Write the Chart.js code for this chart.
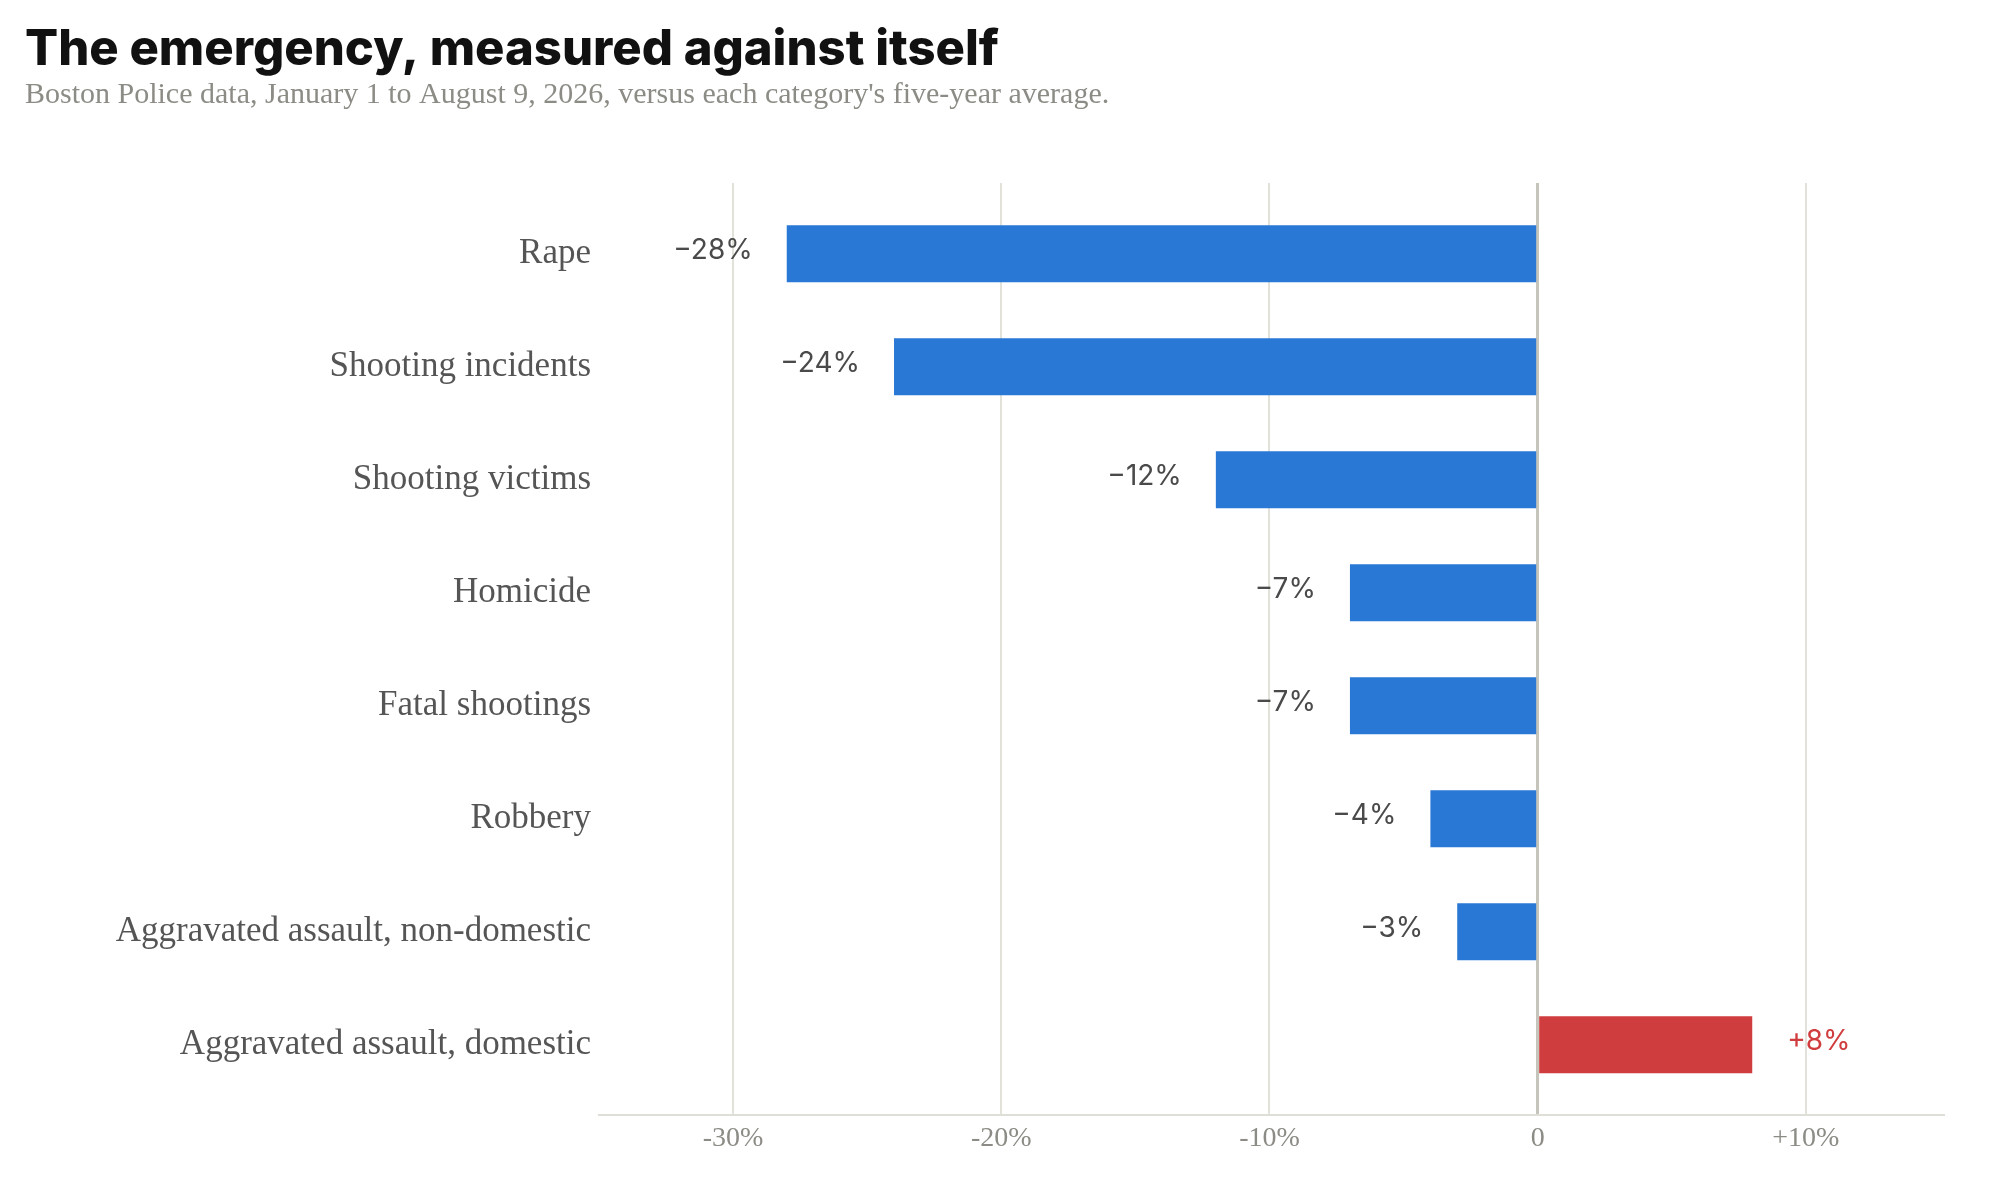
<!DOCTYPE html>
<html>
<head>
<meta charset="utf-8">
<script src="https://cdn.jsdelivr.net/npm/chart.js@4.4.1/dist/chart.umd.min.js"></script>
<style>
  html, body { margin: 0; padding: 0; background: #fff; }
  #wrap { width: 2000px; height: 1180px; position: relative; }
</style>
</head>
<body>
<div id="wrap"><canvas id="chart"></canvas></div>
<script>
// data
const categories = [
  'Rape',
  'Shooting incidents',
  'Shooting victims',
  'Homicide',
  'Fatal shootings',
  'Robbery',
  'Aggravated assault, non-domestic',
  'Aggravated assault, domestic'
];
const changes = [-28, -24, -12, -7, -7, -4, -3, 8];
const barLabels = ['\u221228%', '\u221224%', '\u221212%', '\u22127%', '\u22127%', '\u22124%', '\u22123%', '+8%'];
const xTickValues = [-30, -20, -10, 0, 10];
const xTickLabels = ['-30%', '-20%', '-10%', '0', '+10%'];

const BLUE = '#2a78d6';
const RED = '#d03d3e';

// value labels at the end of each bar
const valueLabels = {
  id: 'valueLabels',
  afterDatasetsDraw(chart) {
    const ctx = chart.ctx;
    const meta = chart.getDatasetMeta(0);
    ctx.save();
    ctx.font = '400 28px Inter';
    ctx.textBaseline = 'middle';
    meta.data.forEach((bar, i) => {
      const neg = changes[i] < 0;
      ctx.fillStyle = neg ? '#4a4a4a' : RED;
      ctx.textAlign = neg ? 'right' : 'left';
      ctx.fillText(barLabels[i], bar.x + (neg ? -34 : 35), bar.y - 3);
    });
    ctx.restore();
  }
};

new Chart(document.getElementById('chart'), {
  type: 'bar',
  data: {
    datasets: [{
      data: changes.map((v, i) => ({ x: v, y: i })),
      backgroundColor: changes.map(v => v < 0 ? BLUE : RED),
      borderWidth: 0,
      barPercentage: 0.505,
      categoryPercentage: 1
    }]
  },
  options: {
    indexAxis: 'y',
    responsive: true,
    maintainAspectRatio: false,
    animation: false,
    devicePixelRatio: 1,
    layout: { padding: { left: 25, right: 56, top: 0, bottom: 19 } },
    plugins: {
      legend: { display: false },
      tooltip: { enabled: false },
      title: {
        display: true,
        text: 'The emergency, measured against itself',
        align: 'start',
        color: '#111',
        font: { family: 'Inter', size: 49, weight: '800', lineHeight: 1 },
        padding: { top: 26, bottom: 0 }
      },
      subtitle: {
        display: true,
        text: "Boston Police data, January 1 to August 9, 2026, versus each category's five-year average.",
        align: 'start',
        color: '#8c8b85',
        font: { family: 'Liberation Serif', size: 30, lineHeight: 0.8 },
        padding: { top: 8, bottom: 76 }
      }
    },
    scales: {
      x: {
        type: 'linear',
        min: -35,
        max: 15.15,
        afterBuildTicks: s => { s.ticks = xTickValues.map(v => ({ value: v })); },
        ticks: {
          color: '#8c8b85',
          font: { family: 'Liberation Serif', size: 28 },
          padding: 6,
          callback: v => xTickLabels[xTickValues.indexOf(v)]
        },
        grid: {
          drawTicks: false,
          color: c => c.tick && c.tick.value === 0 ? '#c5c5bb' : '#e3e2da',
          lineWidth: c => c.tick && c.tick.value === 0 ? 3 : 2
        },
        border: { display: true, color: '#e0dfd7', width: 2 }
      },
      y: {
        type: 'linear',
        reverse: true,
        offset: false,
        min: -0.626,
        max: 7.626,
        afterBuildTicks: s => { s.ticks = categories.map((c, i) => ({ value: i })); },
        afterFit: s => { s.width = 574; },
        ticks: {
          color: '#555',
          font: { family: 'Liberation Serif', size: 35 },
          padding: 8,
          autoSkip: false,
          callback: v => categories[v]
        },
        grid: { display: false, drawTicks: false },
        border: { display: false }
      }
    }
  },
  plugins: [valueLabels]
});
</script>
</body>
</html>
